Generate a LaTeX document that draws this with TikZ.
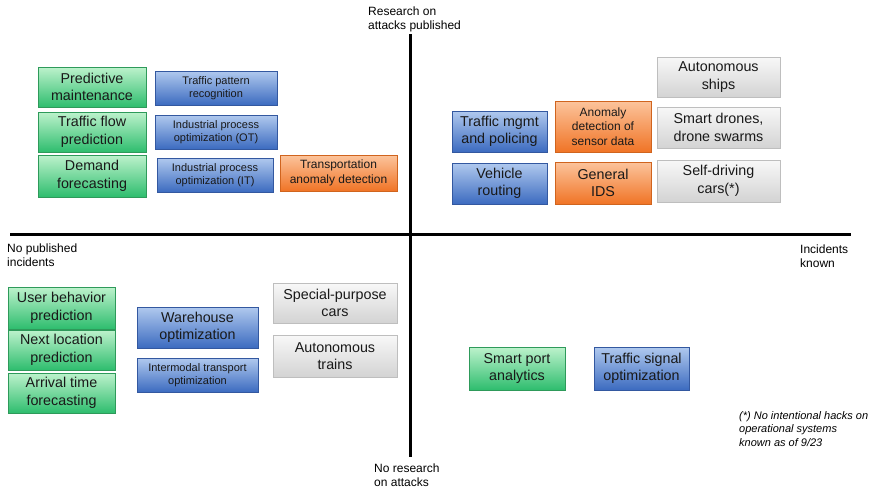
\documentclass[tikz,border=0pt]{standalone}
\usepackage{fontspec}
\setmainfont{Liberation Sans}
\usepackage{xcolor}
\usetikzlibrary{shadows}

\definecolor{grtop}{HTML}{BDF2CC}
\definecolor{grbot}{HTML}{2EBD6E}
\definecolor{grdraw}{HTML}{2E9A5A}
\definecolor{bltop}{HTML}{B0C9EE}
\definecolor{blbot}{HTML}{3C6BC0}
\definecolor{bldraw}{HTML}{3358A0}
\definecolor{ortop}{HTML}{FCC49C}
\definecolor{orbot}{HTML}{F07426}
\definecolor{ordraw}{HTML}{D0641E}
\definecolor{gytop}{HTML}{F8F8F8}
\definecolor{gybot}{HTML}{D3D3D3}
\definecolor{gydraw}{HTML}{BEBEBE}

\begin{document}
\begin{tikzpicture}[x=1pt,y=-1pt,
  box/.style={rectangle,align=center,inner sep=0pt,text=black!90,line width=0.5pt,
    drop shadow={opacity=0.25,shadow xshift=1pt,shadow yshift=-1.2pt}},
  greenbox/.style={box,draw=grdraw,top color=grtop,bottom color=grbot},
  bluebox/.style={box,draw=bldraw,top color=bltop,bottom color=blbot},
  orangebox/.style={box,draw=ordraw,top color=ortop,bottom color=orbot},
  graybox/.style={box,draw=gydraw,top color=gytop,bottom color=gybot},
  big/.style={font=\fontsize{14.3}{17.5}\selectfont},
  mid/.style={font=\fontsize{12}{14.5}\selectfont},
  small/.style={font=\fontsize{11}{13.5}\selectfont},
  axlabel/.style={anchor=west,align=left,inner sep=0pt,font=\fontsize{12}{14}\selectfont}]
\useasboundingbox (0,0) rectangle (877,493);
% axes
\coordinate (west) at (10,234);
\coordinate (east) at (851,234);
\coordinate (north) at (410,34);
\coordinate (south) at (410,457);
\draw[line width=3pt] (west) -- (east);
\draw[line width=3pt] (north) -- (south);
\node[axlabel] (top) at (368,19) {Research on\\attacks published};
\node[axlabel] (bottom) at (374,475.5) {No research\\on attacks};
\node[axlabel] (left) at (7,255.5) {No published\\incidents};
\node[axlabel] (right) at (800,256) {Incidents\\known};
% upper left: published research, no incidents
\node[greenbox,big,minimum width=108,minimum height=40] (pm) at (92,87) {Predictive\\maintenance};
\node[greenbox,big,minimum width=108,minimum height=40] (tfp) at (92,132) {Traffic flow\\prediction};
\node[greenbox,big,minimum width=108,minimum height=42] (dfc) at (92,176) {Demand\\forecasting};
\node[bluebox,small,minimum width=122,minimum height=34] (tpr) at (216,88) {Traffic pattern\\recognition};
\node[bluebox,small,minimum width=122,minimum height=34] (ipot) at (216,132) {Industrial process\\optimization (OT)};
\node[bluebox,small,minimum width=116,minimum height=34] (ipit) at (215,175) {Industrial process\\optimization (IT)};
\node[orangebox,mid,minimum width=117,minimum height=36] (tad) at (338.5,173) {Transportation\\anomaly detection};
% upper right: published research, incidents known
\node[bluebox,big,minimum width=95,minimum height=41] (tmp) at (499.5,131.5) {Traffic mgmt\\and policing};
\node[bluebox,big,minimum width=95,minimum height=41] (vr) at (499.5,183.5) {Vehicle\\routing};
\node[orangebox,mid,minimum width=96,minimum height=51] (ads) at (603,126.5) {Anomaly\\detection of\\sensor data};
\node[orangebox,big,minimum width=96,minimum height=42] (ids) at (603,183) {General\\IDS};
\node[graybox,big,minimum width=123,minimum height=40] (ship) at (718.5,77) {Autonomous\\ships};
\node[graybox,big,minimum width=123,minimum height=41] (drone) at (718.5,127.5) {Smart drones,\\drone swarms};
\node[graybox,big,minimum width=123,minimum height=42] (sdc) at (718.5,181) {Self-driving\\cars(*)};
% lower left: nothing published
\node[greenbox,big,minimum width=107,minimum height=42] (ubp) at (61.5,308) {User behavior\\prediction};
\node[greenbox,big,minimum width=107,minimum height=40] (nlp) at (61.5,350) {Next location\\prediction};
\node[greenbox,big,minimum width=107,minimum height=40] (atf) at (61.5,393) {Arrival time\\forecasting};
\node[bluebox,big,minimum width=121,minimum height=41] (who) at (197.5,327.5) {Warehouse\\optimization};
\node[bluebox,small,minimum width=121,minimum height=34] (ito) at (197.5,375) {Intermodal transport\\optimization};
\node[graybox,big,minimum width=124,minimum height=40] (spc) at (335,303) {Special-purpose\\cars};
\node[graybox,big,minimum width=124,minimum height=42] (atr) at (335,356) {Autonomous\\trains};
% lower right
\node[greenbox,big,minimum width=96,minimum height=43] (spa) at (517,368.5) {Smart port\\analytics};
\node[bluebox,big,minimum width=95,minimum height=43] (tso) at (641.5,368.5) {Traffic signal\\optimization};
\node[anchor=west,align=left,inner sep=0pt,font=\fontsize{11}{13.5}\selectfont\itshape] (note) at (739,429)
  {(*) No intentional hacks on\\operational systems\\known as of 9/23};
\end{tikzpicture}
\end{document}
